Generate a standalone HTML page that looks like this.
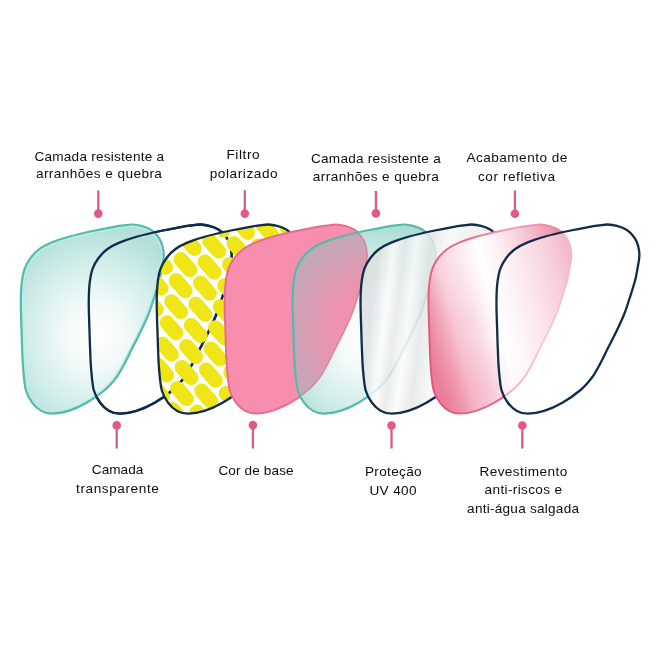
<!DOCTYPE html>
<html><head><meta charset="utf-8"><style>
html,body{margin:0;padding:0;background:#fff;}
svg{display:block;will-change:transform;}
text{font-family:"Liberation Sans",sans-serif;font-size:13.6px;fill:#0d0d0d;text-anchor:middle;}
</style></head><body>
<svg width="660" height="660" viewBox="0 0 660 660">
<defs>
<path id="L" d="M21.50 330.00C21.27 322.10 20.77 310.40 20.80 302.60C20.83 294.80 21.05 288.87 21.70 283.20C22.35 277.53 23.18 272.85 24.70 268.60C26.22 264.35 28.38 260.93 30.80 257.70C33.22 254.47 35.77 251.72 39.20 249.20C42.63 246.68 46.35 244.72 51.40 242.60C56.45 240.48 62.23 238.52 69.50 236.50C76.77 234.48 87.58 232.12 95.00 230.50C102.42 228.88 109.32 227.63 114.00 226.80C118.68 225.97 120.07 225.88 123.10 225.50C126.13 225.12 129.17 224.43 132.20 224.50C135.23 224.57 138.27 225.07 141.30 225.90C144.33 226.73 147.83 227.98 150.40 229.50C152.97 231.02 154.88 232.87 156.70 235.00C158.52 237.13 160.17 239.57 161.30 242.30C162.43 245.03 163.13 248.68 163.50 251.40C163.87 254.12 163.87 255.27 163.50 258.60C163.13 261.93 161.97 267.80 161.30 271.40C160.63 275.00 160.57 276.22 159.50 280.20C158.43 284.18 156.68 289.75 154.90 295.30C153.12 300.85 151.07 307.68 148.80 313.50C146.53 319.32 144.07 324.40 141.30 330.20C138.53 336.00 134.98 342.75 132.20 348.30C129.42 353.85 127.22 358.67 124.60 363.50C121.98 368.33 119.78 372.88 116.50 377.30C113.22 381.72 109.87 385.77 104.90 390.00C99.93 394.23 92.77 399.22 86.70 402.70C80.63 406.18 74.25 409.08 68.50 410.90C62.75 412.72 56.73 413.60 52.20 413.60C47.67 413.60 44.63 412.72 41.30 410.90C37.97 409.08 34.78 406.18 32.20 402.70C29.62 399.22 27.32 395.75 25.80 390.00C24.28 384.25 23.70 374.87 23.10 368.20C22.50 361.53 22.47 356.37 22.20 350.00C21.93 343.63 21.73 337.90 21.50 330.00Z"/>
<clipPath id="c3"><use href="#L" transform="translate(135.90,0)"/></clipPath>
<clipPath id="c4"><use href="#L" transform="translate(203.85,0)"/></clipPath>
<clipPath id="c5"><use href="#L" transform="translate(271.80,0)"/></clipPath>
<clipPath id="c1"><use href="#L" transform="translate(0.00,0)"/></clipPath>
<radialGradient id="gT" gradientUnits="userSpaceOnUse" cx="95" cy="335" r="100" gradientTransform="translate(95 335) scale(1 1.1) translate(-95 -335)">
 <stop offset="0" stop-color="#ffffff"/>
 <stop offset="0.3" stop-color="#f2faf9"/>
 <stop offset="0.65" stop-color="#d3eeeb"/>
 <stop offset="1" stop-color="#b2dfd9"/>
</radialGradient>
<radialGradient id="gT5" gradientUnits="userSpaceOnUse" cx="95" cy="335" r="100" gradientTransform="translate(95 335) scale(1 1.1) translate(-95 -335)">
 <stop offset="0" stop-color="#ffffff" stop-opacity="0.9"/>
 <stop offset="0.3" stop-color="#f2faf9" stop-opacity="0.85"/>
 <stop offset="0.65" stop-color="#cdebe7" stop-opacity="0.85"/>
 <stop offset="1" stop-color="#a6d9d2" stop-opacity="0.9"/>
</radialGradient>
<radialGradient id="gM" gradientUnits="userSpaceOnUse" cx="100" cy="330" r="100" gradientTransform="translate(100 330) scale(1 1.1) translate(-100 -330)">
 <stop offset="0" stop-color="#9dbabc" stop-opacity="0"/>
 <stop offset="0.4" stop-color="#9dbabc" stop-opacity="0.1"/>
 <stop offset="0.7" stop-color="#a0b9bc" stop-opacity="0.42"/>
 <stop offset="1" stop-color="#a0b9bc" stop-opacity="0.68"/>
</radialGradient>
<linearGradient id="gS" gradientUnits="userSpaceOnUse" x1="21" y1="0" x2="164" y2="0" gradientTransform="translate(34.4 0) skewX(-7)">
 <stop offset="0" stop-color="#d8dcdc"/>
 <stop offset="0.1" stop-color="#dce0e0"/>
 <stop offset="0.2" stop-color="#fbfcfc"/>
 <stop offset="0.28" stop-color="#e6e9e9"/>
 <stop offset="0.36" stop-color="#fafbfb"/>
 <stop offset="0.46" stop-color="#e3e6e6"/>
 <stop offset="0.58" stop-color="#f7f9f9"/>
 <stop offset="0.75" stop-color="#eceeee"/>
 <stop offset="1" stop-color="#f5f6f6"/>
</linearGradient>
<linearGradient id="gP" gradientUnits="userSpaceOnUse" x1="-67.6" y1="18.2" x2="86.9" y2="-23.4">
 <stop offset="0" stop-color="#ea7f9b"/>
 <stop offset="0.0625" stop-color="#ee93aa"/>
 <stop offset="0.125" stop-color="#f2abbc"/>
 <stop offset="0.19" stop-color="#f6c6d2"/>
 <stop offset="0.31" stop-color="#fad9e2"/>
 <stop offset="0.40" stop-color="#fef0f3"/>
 <stop offset="0.456" stop-color="#ffffff"/>
 <stop offset="0.56" stop-color="#fdf0f3"/>
 <stop offset="0.75" stop-color="#f7cad5"/>
 <stop offset="0.906" stop-color="#f0a0b5"/>
 <stop offset="1" stop-color="#e8809b"/>
</linearGradient>
<radialGradient id="gPb" gradientUnits="userSpaceOnUse" cx="35" cy="405" r="75" gradientTransform="translate(35 405) scale(1.3 1) translate(-35 -405)">
 <stop offset="0" stop-color="#e8708f" stop-opacity="0.3"/>
 <stop offset="0.5" stop-color="#ea7a97" stop-opacity="0.15"/>
 <stop offset="1" stop-color="#ec85a0" stop-opacity="0"/>
</radialGradient>
<radialGradient id="gPw" gradientUnits="userSpaceOnUse" cx="60" cy="252" r="55" gradientTransform="translate(60 252) scale(1 1.3) translate(-60 -252)">
 <stop offset="0" stop-color="#ffffff" stop-opacity="0.38"/>
 <stop offset="0.6" stop-color="#ffffff" stop-opacity="0.18"/>
 <stop offset="1" stop-color="#ffffff" stop-opacity="0"/>
</radialGradient>
<linearGradient id="gPs" gradientUnits="userSpaceOnUse" x1="-67.6" y1="18.2" x2="86.9" y2="-23.4">
 <stop offset="0" stop-color="#e05a7c"/>
 <stop offset="0.4" stop-color="#e66f8e"/>
 <stop offset="0.7" stop-color="#f0a3b6"/>
 <stop offset="1" stop-color="#e8819c"/>
</linearGradient>
</defs>
<g stroke-linejoin="round">
<use href="#L" transform="translate(67.95,0)" fill="none" stroke="#0f2d4b" stroke-width="2.3"/>
<use href="#L" transform="translate(0.00,0)" fill="url(#gT)"/>
<g clip-path="url(#c1)"><use href="#L" transform="translate(0.00,0)" fill="none" stroke="#bdece6" stroke-width="5"/></g>
<use href="#L" transform="translate(0.00,0)" fill="none" stroke="#53bba8" stroke-width="2.2"/>
<use href="#L" transform="translate(67.95,0)" fill="none" stroke="#0f2d4b" stroke-width="2.3"/>
<g clip-path="url(#c3)"><path transform="translate(135.90,0)" d="M5.5 212.2L14.7 222.7M0.9 233.3L10.1 243.8M-3.7 254.4L5.5 264.9M29.7 214.7L39.0 225.2M25.1 235.8L34.4 246.3M20.5 256.9L29.8 267.4M15.9 277.9L25.2 288.4M11.3 299.0L20.6 309.5M6.7 320.1L16.0 330.6M2.1 341.2L11.4 351.7M-2.5 362.3L6.8 372.8M54.0 217.2L63.2 227.7M49.4 238.3L58.6 248.8M44.8 259.4L54.0 269.9M40.2 280.4L49.4 290.9M35.6 301.5L44.8 312.0M31.0 322.6L40.2 333.1M26.4 343.7L35.6 354.2M21.8 364.8L31.0 375.3M17.2 385.8L26.4 396.3M12.6 406.9L21.8 417.4M8.0 428.0L17.2 438.5M78.2 219.7L87.5 230.2M73.6 240.8L82.9 251.3M69.0 261.9L78.3 272.4M64.4 282.9L73.7 293.4M59.8 304.0L69.1 314.5M55.2 325.1L64.5 335.6M50.6 346.2L59.9 356.7M46.0 367.3L55.3 377.8M41.4 388.3L50.7 398.8M36.8 409.4L46.1 419.9M107.1 201.1L116.4 211.6M102.5 222.2L111.8 232.7M97.9 243.3L107.2 253.8M93.3 264.4L102.6 274.9M88.7 285.4L98.0 295.9M84.1 306.5L93.4 317.0M79.5 327.6L88.8 338.1M74.9 348.7L84.2 359.2M70.3 369.8L79.6 380.3M65.7 390.8L75.0 401.3M61.1 411.9L70.4 422.4M131.4 203.6L140.6 214.1M126.8 224.7L136.0 235.2M122.2 245.8L131.4 256.3M117.6 266.9L126.8 277.4M113.0 287.9L122.2 298.4M108.4 309.0L117.6 319.5M103.8 330.1L113.0 340.6M99.2 351.2L108.4 361.7M94.6 372.3L103.8 382.8M90.0 393.3L99.2 403.8M85.4 414.4L94.6 424.9M155.6 206.1L164.9 216.6M151.0 227.2L160.3 237.7M146.4 248.3L155.7 258.8M141.8 269.4L151.1 279.9M137.2 290.4L146.5 300.9M132.6 311.5L141.9 322.0M128.0 332.6L137.3 343.1M123.4 353.7L132.7 364.2M118.8 374.8L128.1 385.3M114.2 395.8L123.5 406.3M109.6 416.9L118.9 427.4M179.9 208.6L189.1 219.1M175.3 229.7L184.5 240.2M170.7 250.8L179.9 261.3M166.1 271.9L175.3 282.4M161.5 292.9L170.7 303.4M156.9 314.0L166.1 324.5M152.3 335.1L161.5 345.6M147.7 356.2L156.9 366.7M143.1 377.3L152.3 387.8M138.5 398.3L147.7 408.8M133.9 419.4L143.1 429.9M176.5 337.6L185.8 348.1M171.9 358.7L181.2 369.2M167.3 379.8L176.6 390.3M162.7 400.8L172.0 411.3M158.1 421.9L167.4 432.4" stroke="#f0e617" stroke-width="14.6" stroke-linecap="round" fill="none"/></g>
<use href="#L" transform="translate(135.90,0)" fill="none" stroke="#0f2d4b" stroke-width="2.3"/>
<use href="#L" transform="translate(203.85,0)" fill="#f78eae" stroke="#e46d90" stroke-width="2"/>
<use href="#L" transform="translate(271.80,0)" fill="url(#gT5)"/>
<g clip-path="url(#c5)"><g clip-path="url(#c4)">
 <use href="#L" transform="translate(203.85,0)" fill="#f78eae"/>
 <use href="#L" transform="translate(271.80,0)" fill="url(#gM)"/>
 <use href="#L" transform="translate(203.85,0)" fill="none" stroke="#d67a95" stroke-width="2"/>
</g></g>
<use href="#L" transform="translate(271.80,0)" fill="none" stroke="#53bba8" stroke-width="2.2"/>
<use href="#L" transform="translate(339.75,0)" fill="url(#gS)" fill-opacity="0.82" stroke="#0f2d4b" stroke-width="2.3"/>
<use href="#L" transform="translate(407.70,0)" fill="url(#gP)"/>
<use href="#L" transform="translate(407.70,0)" fill="url(#gPb)"/>
<use href="#L" transform="translate(407.70,0)" fill="url(#gPw)" stroke="url(#gPs)" stroke-width="2"/>
<use href="#L" transform="translate(475.65,0)" fill="#fff" fill-opacity="0.45" stroke="#0f2d4b" stroke-width="2.3"/>
</g>
<g stroke="#e05a85" stroke-width="2.3" fill="#e05a85">
<line x1="98.3" y1="190.4" x2="98.3" y2="213.6"/><circle cx="98.3" cy="213.6" r="4.3" stroke="none"/><line x1="244.8" y1="190.2" x2="244.8" y2="213.6"/><circle cx="244.8" cy="213.6" r="4.3" stroke="none"/><line x1="375.9" y1="191" x2="375.9" y2="213.4"/><circle cx="375.9" cy="213.4" r="4.3" stroke="none"/><line x1="514.9" y1="190.5" x2="514.9" y2="213.8"/><circle cx="514.9" cy="213.8" r="4.3" stroke="none"/><line x1="116.7" y1="425.4" x2="116.7" y2="448.5"/><circle cx="116.7" cy="425.4" r="4.3" stroke="none"/><line x1="252.9" y1="425.1" x2="252.9" y2="448.5"/><circle cx="252.9" cy="425.1" r="4.3" stroke="none"/><line x1="391.5" y1="425.5" x2="391.5" y2="448.5"/><circle cx="391.5" cy="425.5" r="4.3" stroke="none"/><line x1="522.3" y1="425.5" x2="522.3" y2="448.5"/><circle cx="522.3" cy="425.5" r="4.3" stroke="none"/>
</g>
<text x="99.25" y="160.5" textLength="129.7" lengthAdjust="spacing">Camada resistente a</text><text x="98.9" y="178.4" textLength="126.0" lengthAdjust="spacing">arranhões e quebra</text><text x="243.0" y="159.0" textLength="33.2" lengthAdjust="spacing">Filtro</text><text x="243.65" y="178.0" textLength="67.9" lengthAdjust="spacing">polarizado</text><text x="375.85" y="162.5" textLength="129.7" lengthAdjust="spacing">Camada resistente a</text><text x="375.8" y="180.9" textLength="126.1" lengthAdjust="spacing">arranhões e quebra</text><text x="516.85" y="162.4" textLength="100.9" lengthAdjust="spacing">Acabamento de</text><text x="516.5" y="181.0" textLength="77.0" lengthAdjust="spacing">cor refletiva</text><text x="117.55" y="473.7" textLength="51.5" lengthAdjust="spacing">Camada</text><text x="117.45" y="492.8" textLength="82.7" lengthAdjust="spacing">transparente</text><text x="256.0" y="474.9" textLength="75.2" lengthAdjust="spacing">Cor de base</text><text x="393.25" y="475.8" textLength="56.7" lengthAdjust="spacing">Proteção</text><text x="393.0" y="494.5" textLength="47.2" lengthAdjust="spacing">UV 400</text><text x="523.3" y="475.5" textLength="87.8" lengthAdjust="spacing">Revestimento</text><text x="523.3" y="494.1" textLength="77.4" lengthAdjust="spacing">anti-riscos e</text><text x="523.05" y="512.7" textLength="111.9" lengthAdjust="spacing">anti-água salgada</text>
</svg>
</body></html>
